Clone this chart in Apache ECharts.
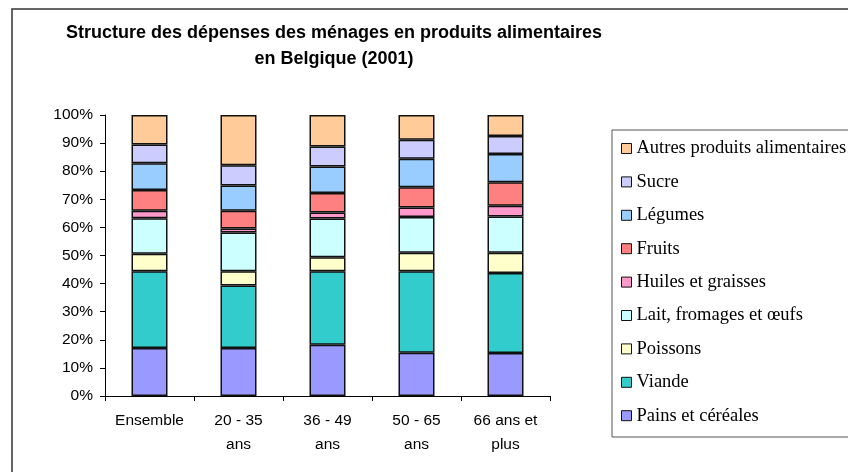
<!DOCTYPE html>
<html>
<head>
<meta charset="utf-8">
<script src="https://cdn.jsdelivr.net/npm/echarts@6/dist/echarts.min.js"></script>
<style>
  html, body { margin: 0; padding: 0; background: #fff; }
  #chart { width: 848px; height: 472px; }
</style>
</head>
<body>
<div id="chart"></div>
<script>
// catégories (axe x)
var categories = ['Ensemble', '20 - 35\nans', '36 - 49\nans', '50 - 65\nans', '66 ans et\nplus'];

// parts en %
var pains    = [17.1, 17.1, 18.2, 15.4, 15.3];
var viande   = [27.3, 22.2, 26.2, 29.0, 28.5];
var poissons = [6.2, 5.1, 5.0, 6.6, 7.2];
var lait     = [12.7, 13.8, 13.8, 12.7, 12.9];
var huiles   = [2.6, 1.4, 2.1, 3.4, 3.8];
var fruits   = [7.4, 6.3, 6.9, 7.2, 8.4];
var legumes  = [9.5, 9.0, 9.5, 10.1, 10.0];
var sucre    = [6.7, 7.2, 7.1, 6.8, 6.4];
var autres   = [10.5, 17.9, 11.2, 8.8, 7.5];

var yTicks = [0, 10, 20, 30, 40, 50, 60, 70, 80, 90, 100];

var chart = echarts.init(document.getElementById('chart'));

function serie(name, data, color) {
    return {
        name: name,
        type: 'bar',
        stack: 'total',
        barWidth: 36,
        data: data,
        itemStyle: {
            color: color,
            borderColor: '#111',
            borderWidth: 1.5
        }
    };
}

var series = [
    serie('Pains et céréales', pains, '#9999ff'),
    serie('Viande', viande, '#33cccc'),
    serie('Poissons', poissons, '#ffffcc'),
    serie('Lait, fromages et œufs', lait, '#ccffff'),
    serie('Huiles et graisses', huiles, '#ff99cc'),
    serie('Fruits', fruits, '#ff8080'),
    serie('Légumes', legumes, '#99ccff'),
    serie('Sucre', sucre, '#ccccff'),
    serie('Autres produits alimentaires', autres, '#ffcc99')
];

var option = {
    animation: false,
    backgroundColor: '#fff',
    title: {
        text: 'Structure des dépenses des ménages en produits alimentaires\nen Belgique (2001)',
        left: 329,
        top: 15,
        textAlign: 'center',
        textStyle: {
            fontFamily: 'Liberation Sans',
            fontSize: 18,
            fontWeight: 'bold',
            color: '#000',
            lineHeight: 26
        }
    },
    graphic: [
        // cadre extérieur
        { type: 'rect', shape: { x: 12, y: 9, width: 860, height: 500 },
          style: { fill: 'none', stroke: '#333', lineWidth: 1.5 }, z: -1 },
        // cadre de la légende
        { type: 'rect', shape: { x: 612, y: 130, width: 260, height: 307 },
          style: { fill: '#fff', stroke: '#555', lineWidth: 1 }, z: 0 }
    ],
    legend: {
        orient: 'vertical',
        left: 621,
        top: 139,
        padding: 0,
        itemGap: 14.4,
        itemWidth: 10,
        itemHeight: 10,
        icon: 'rect',
        zlevel: 1,
        data: series.map(function (s) { return s.name; }).reverse(),
        itemStyle: { borderColor: '#111', borderWidth: 1 },
        textStyle: {
            fontFamily: 'Liberation Serif',
            fontSize: 18.5,
            color: '#000'
        }
    },
    grid: {
        left: 105,
        right: 298,
        top: 115,
        bottom: 76
    },
    xAxis: {
        type: 'category',
        data: categories,
        axisLine: { lineStyle: { color: '#000', width: 1 } },
        axisTick: { show: true, length: 5, lineStyle: { color: '#000' } },
        axisLabel: {
            interval: 0,
            color: '#000',
            fontFamily: 'Liberation Sans',
            fontSize: 15.5,
            lineHeight: 24,
            margin: 13
        }
    },
    yAxis: {
        type: 'value',
        min: 0,
        max: 100,
        interval: 10,
        splitLine: { show: false },
        axisLine: { show: true, lineStyle: { color: '#000', width: 1 } },
        axisTick: { show: true, length: 5, lineStyle: { color: '#000' } },
        axisLabel: {
            color: '#000',
            fontFamily: 'Liberation Sans',
            fontSize: 15.5,
            margin: 12,
            formatter: function (v) { return yTicks.indexOf(v) >= 0 ? v + '%' : ''; }
        }
    },
    series: series
};

chart.setOption(option);
</script>
</body>
</html>
